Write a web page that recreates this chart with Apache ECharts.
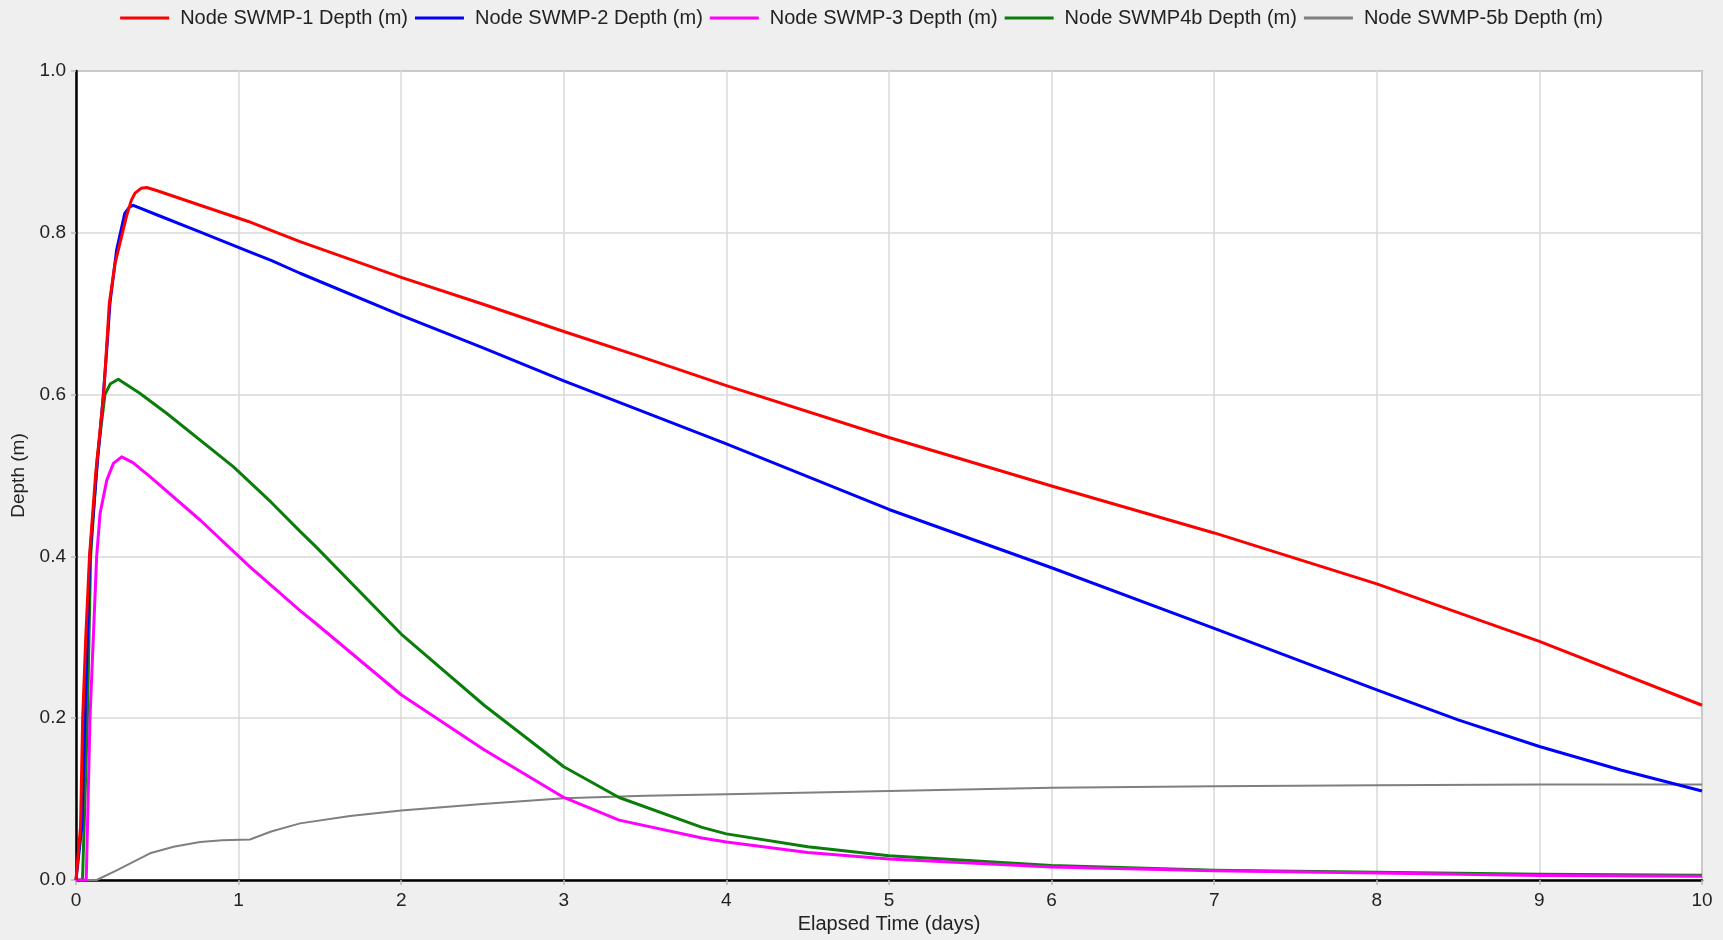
<!DOCTYPE html>
<html>
<head>
<meta charset="utf-8">
<script src="https://cdn.jsdelivr.net/npm/echarts@6/dist/echarts.min.js"></script>
<style>
html,body{margin:0;padding:0;background:#efefef;}
#chart{width:1723px;height:940px;}
</style>
</head>
<body>
<div id="chart"></div>
<script>
// ---- data ----
const seriesNames = ["Node SWMP-1 Depth (m)", "Node SWMP-2 Depth (m)", "Node SWMP-3 Depth (m)", "Node SWMP4b Depth (m)", "Node SWMP-5b Depth (m)"];
const xTicks = [0,1,2,3,4,5,6,7,8,9,10];
const yTicks = [0.0,0.2,0.4,0.6,0.8,1.0];

const timeSWMP1  = [0, 0.005, 0.028, 0.041, 0.06, 0.083, 0.12, 0.17, 0.205, 0.24, 0.27, 0.31, 0.34, 0.363, 0.40, 0.435, 0.5, 0.75, 1.06, 1.2, 1.378, 2, 2.5, 3, 3.5, 4, 5, 6, 7, 8, 9, 10];
const depthSWMP1 = [0, 0, 0.066, 0.2, 0.3, 0.4, 0.5, 0.6, 0.713, 0.762, 0.787, 0.82, 0.84, 0.849, 0.855, 0.856, 0.852, 0.835, 0.814, 0.803, 0.789, 0.745, 0.712, 0.678, 0.645, 0.611, 0.547, 0.487, 0.429, 0.366, 0.295, 0.216];

const timeSWMP2  = [0, 0.01, 0.036, 0.055, 0.085, 0.125, 0.168, 0.189, 0.209, 0.25, 0.30, 0.33, 0.352, 0.5, 0.75, 1.06, 1.2, 1.378, 2, 2.5, 3, 3.5, 4, 5, 6, 7, 8, 8.5, 9, 9.5, 10];
const depthSWMP2 = [0, 0, 0.066, 0.2, 0.4, 0.5, 0.6, 0.655, 0.713, 0.779, 0.824, 0.832, 0.834, 0.822, 0.802, 0.777, 0.766, 0.750, 0.698, 0.658, 0.617, 0.578, 0.539, 0.458, 0.386, 0.311, 0.235, 0.198, 0.165, 0.136, 0.110];

const timeSWMP3  = [0, 0.063, 0.086, 0.127, 0.148, 0.189, 0.23, 0.281, 0.35, 0.455, 0.763, 1.07, 1.378, 1.47, 2, 2.51, 3, 3.34, 3.85, 4, 4.5, 5, 6, 7, 8, 9, 10];
const depthSWMP3 = [0, 0, 0.2, 0.4, 0.453, 0.494, 0.515, 0.523, 0.516, 0.4985, 0.445, 0.387, 0.333, 0.318, 0.229, 0.161, 0.102, 0.074, 0.052, 0.047, 0.034, 0.026, 0.016, 0.0115, 0.0087, 0.0055, 0.0045];

const timeSWMP4b  = [0, 0.04, 0.07, 0.09, 0.13, 0.178, 0.21, 0.26, 0.39, 0.557, 0.967, 1.2, 1.378, 1.47, 2, 2.51, 3, 3.34, 3.85, 4, 4.5, 5, 6, 7, 8, 9, 10];
const depthSWMP4b = [0, 0, 0.2, 0.4, 0.52, 0.6, 0.613, 0.619, 0.602, 0.577, 0.511, 0.467, 0.431, 0.413, 0.304, 0.216, 0.140, 0.102, 0.065, 0.057, 0.041, 0.030, 0.018, 0.012, 0.0095, 0.007, 0.006];

const timeSWMP5b  = [0, 0.127, 0.25, 0.455, 0.6, 0.763, 0.9, 1.07, 1.2, 1.378, 1.685, 2, 2.5, 3, 3.5, 4, 5, 6, 7, 8, 9, 10];
const depthSWMP5b = [0, 0, 0.012, 0.033, 0.041, 0.047, 0.049, 0.050, 0.060, 0.070, 0.079, 0.086, 0.094, 0.101, 0.104, 0.106, 0.110, 0.114, 0.116, 0.117, 0.118, 0.118];

const seriesColors = ["#ff0000", "#0000ff", "#ff00ff", "#0a7d0a", "#7f7f7f"];
const seriesWidths = [3, 3, 3, 3, 2];

// ---- build ----
const zip = (t, d) => t.map((v, i) => [v, d[i]]);
const allData = [
  zip(timeSWMP1, depthSWMP1),
  zip(timeSWMP2, depthSWMP2),
  zip(timeSWMP3, depthSWMP3),
  zip(timeSWMP4b, depthSWMP4b),
  zip(timeSWMP5b, depthSWMP5b)
];

const chart = echarts.init(document.getElementById('chart'), null, {renderer: 'canvas'});
const font = 'Liberation Sans, Arial, sans-serif';

chart.setOption({
  backgroundColor: '#efefef',
  animation: false,
  legend: {
    top: 3,
    left: 'center',
    itemGap: 7,
    itemWidth: 49,
    itemHeight: 3,
    icon: 'rect',
    textStyle: {fontFamily: font, fontSize: 20, color: '#222', padding: [0, 0, 0, 6]},
    data: seriesNames.map((n, i) => ({name: n, itemStyle: {color: seriesColors[i]}}))
  },
  grid: {
    left: 76, right: 21, top: 71, bottom: 60,
    show: true, backgroundColor: '#ffffff', borderColor: '#808080', borderWidth: 1.5
  },
  xAxis: {
    type: 'value', min: 0, max: 10, interval: 1,
    name: 'Elapsed Time (days)', nameLocation: 'middle', nameGap: 33,
    nameTextStyle: {fontFamily: font, fontSize: 20, color: '#222'},
    axisLine: {show: true, onZero: false, lineStyle: {color: '#000', width: 2.5}},
    axisTick: {show: true, length: 5, lineStyle: {color: '#bbb', width: 1.5}},
    axisLabel: {fontFamily: font, fontSize: 19, color: '#222', margin: 11,
      formatter: v => xTicks.indexOf(v) >= 0 ? String(v) : ''},
    splitLine: {show: true, lineStyle: {color: '#d8d8d8', width: 1.5}}
  },
  yAxis: {
    type: 'value', min: 0, max: 1, interval: 0.2,
    name: 'Depth (m)', nameLocation: 'middle', nameGap: 42,
    nameTextStyle: {fontFamily: font, fontSize: 19, color: '#222'},
    axisLine: {show: true, onZero: false, lineStyle: {color: '#000', width: 2.5}},
    axisTick: {show: true, length: 5, lineStyle: {color: '#bbb', width: 1.5}},
    axisLabel: {fontFamily: font, fontSize: 19, color: '#222', margin: 10,
      formatter: v => { const t = yTicks.find(y => Math.abs(y - v) < 1e-9); return t === undefined ? '' : t.toFixed(1); }},
    splitLine: {show: true, lineStyle: {color: '#d8d8d8', width: 1.5}}
  },
  series: allData.map((d, i) => ({
    name: seriesNames[i],
    type: 'line',
    data: d,
    showSymbol: false,
    symbol: 'none',
    smooth: false,
    clip: true,
    z: 10 - i,
    lineStyle: {color: seriesColors[i], width: seriesWidths[i], join: 'round'},
    itemStyle: {color: seriesColors[i]}
  }))
});
</script>
</body>
</html>
